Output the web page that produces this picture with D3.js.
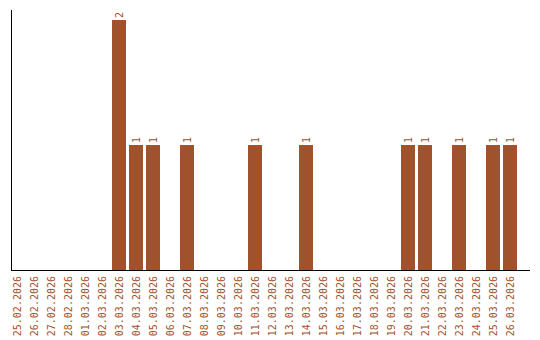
<!DOCTYPE html>
<html>
<head>
<meta charset="utf-8">
<script src="https://cdn.jsdelivr.net/npm/d3@7"></script>
<style>
  body { margin: 0; background: #fff; }
  svg { display: block; }
</style>
</head>
<body>
<script>
let w = 540;
let h = 340;

const dates = [
  "25.02.2026", "26.02.2026", "27.02.2026", "28.02.2026", "01.03.2026",
  "02.03.2026", "03.03.2026", "04.03.2026", "05.03.2026", "06.03.2026",
  "07.03.2026", "08.03.2026", "09.03.2026", "10.03.2026", "11.03.2026",
  "12.03.2026", "13.03.2026", "14.03.2026", "15.03.2026", "16.03.2026",
  "17.03.2026", "18.03.2026", "19.03.2026", "20.03.2026", "21.03.2026",
  "22.03.2026", "23.03.2026", "24.03.2026", "25.03.2026", "26.03.2026",
];
const counts = [0, 0, 0, 0, 0, 0, 2, 1, 1, 0, 1, 0, 0, 0, 1, 0, 0, 1, 0, 0, 0, 0, 0, 1, 1, 0, 1, 0, 1, 1];

const color = "#a0522d";
const font = "'DejaVu Sans Mono', monospace";

let svg = d3.select("body").append("svg").attr("width", w).attr("height", h);

let x = d3
  .scaleBand()
  .domain(dates)
  .range([8.5, 518.5])
  .paddingInner(3 / 17)
  .paddingOuter(1.5 / 17);

let y = d3.scaleLinear().domain([0, 2.08]).range([270, 10]);

const data = dates.map(function (d, i) {
  return { date: d, count: counts[i] };
});
const nonZero = data.filter(function (d) {
  return d.count > 0;
});

// bars
svg
  .selectAll("rect")
  .data(nonZero)
  .enter()
  .append("rect")
  .attr("x", function (d) {
    return x(d.date);
  })
  .attr("y", function (d) {
    return y(d.count);
  })
  .attr("width", x.bandwidth())
  .attr("height", function (d) {
    return y(0) - y(d.count);
  })
  .attr("fill", color);

// value labels
svg
  .selectAll("text.val")
  .data(nonZero)
  .enter()
  .append("text")
  .attr("class", "val")
  .text(function (d) {
    return d.count;
  })
  .attr("transform", function (d) {
    return "translate(" + (x(d.date) + x.bandwidth() / 2) + "," + (y(d.count) - 2) + ") rotate(-90)";
  })
  .attr("dy", ".35em")
  .attr("text-anchor", "start")
  .attr("font-family", font)
  .attr("font-size", "10px")
  .attr("fill", color);

// axes
let xAxis = svg
  .append("g")
  .attr("transform", "translate(0,270)")
  .call(d3.axisBottom(x).tickSize(0).tickSizeOuter(0));
xAxis.select(".domain").attr("d", "M11,0.5H530").attr("stroke", "#000");
xAxis
  .selectAll("text")
  .attr("font-family", font)
  .attr("font-size", "10px")
  .attr("fill", color)
  .attr("text-anchor", "end")
  .attr("transform", "rotate(-90)")
  .attr("x", -6)
  .attr("y", 0)
  .attr("dy", ".35em");

svg
  .append("line")
  .attr("x1", 11.5)
  .attr("x2", 11.5)
  .attr("y1", 10)
  .attr("y2", 271)
  .attr("stroke", "#000");
</script>
</body>
</html>
